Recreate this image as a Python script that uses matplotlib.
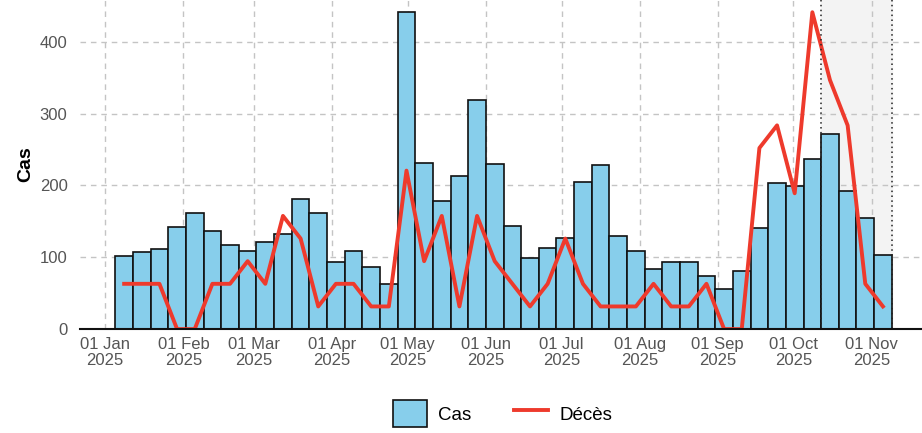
import pandas as pd
import matplotlib.pyplot as plt
import matplotlib.dates as mdates
from matplotlib.patches import Patch
from matplotlib.lines import Line2D

plt.rcParams['font.family'] = ['Liberation Sans', 'DejaVu Sans']

# weekly counts, weeks starting Sunday 05 Jan 2025
week_start = pd.date_range("2025-01-05", periods=44, freq="7D")
cas = [102, 107, 112, 142, 162, 137, 117, 109, 121, 132,
       181, 162, 94, 109, 87, 63, 441, 231, 178, 213,
       319, 230, 144, 99, 113, 127, 205, 228, 129, 109,
       83, 93, 93, 74, 56, 81, 141, 204, 199, 237,
       271, 192, 155, 103]
deces = [2, 2, 2, 0, 0, 2, 2, 3, 2, 5,
         4, 1, 2, 2, 1, 1, 7, 3, 5, 1,
         5, 3, 2, 1, 2, 4, 2, 1, 1, 1,
         2, 1, 1, 2, 0, 0, 8, 9, 6, 14,
         11, 9, 2, 1]
shade_start = pd.Timestamp("2025-10-12")
shade_end = pd.Timestamp("2025-11-09")

# deaths drawn on the cases scale
scale = max(cas) / max(deces)
deces_scaled = [d * scale for d in deces]

fig = plt.figure(figsize=(9.22, 4.33), dpi=100)
ax = fig.add_axes([0.0868, 0.240, 0.9132, 0.760])

ax.axvspan(shade_start, shade_end, color='#f3f3f3', zorder=0)

ax.bar(week_start, cas, width=7, align='edge', color='#87ceeb',
       edgecolor='#111111', linewidth=1.2, zorder=2)
centers = week_start + pd.Timedelta(days=3.5)
ax.plot(centers, deces_scaled, color='#ee3a2c', linewidth=2.8, zorder=3)

for d in [shade_start, shade_end]:
    ax.axvline(d, color='#222222', linestyle=(0, (1, 2.2)), linewidth=1.1, zorder=4)

ax.set_xlim(pd.Timestamp("2024-12-22"), pd.Timestamp("2025-11-21"))
ax.set_ylim(0, 458)
ax.set_yticks([0, 100, 200, 300, 400])

ax.xaxis.set_major_locator(mdates.MonthLocator())
ax.xaxis.set_major_formatter(mdates.DateFormatter("%d %b\n%Y"))

ax.grid(True, color='#c4c4c4', linestyle=(0, (4, 3.5)), linewidth=1.0, zorder=1)
ax.set_axisbelow(True)
for s in ['top', 'right', 'left']:
    ax.spines[s].set_visible(False)
ax.spines['bottom'].set_color('#111111')
ax.spines['bottom'].set_linewidth(1.5)
ax.spines['bottom'].set_zorder(5)

ax.tick_params(axis='both', length=0, labelsize=12, labelcolor='#555555')
ax.tick_params(axis='x', pad=6)
ax.tick_params(axis='y', pad=9)
for lbl in ax.get_xticklabels():
    lbl.set_linespacing(1.05)

ax.set_ylabel("Cas", fontsize=14, fontweight='bold', labelpad=4)

handles = [Patch(facecolor='#87ceeb', edgecolor='#111111', linewidth=1.2, label='Cas'),
           Line2D([0], [0], color='#ee3a2c', linewidth=2.8, label='Décès')]
fig.legend(handles=handles, loc='center', bbox_to_anchor=(0.545, 0.045),
           ncol=2, frameon=False, fontsize=13.5, handlelength=1.8,
           handleheight=1.8, columnspacing=2.3, handletextpad=0.6)

plt.savefig('out.png', dpi=100)
